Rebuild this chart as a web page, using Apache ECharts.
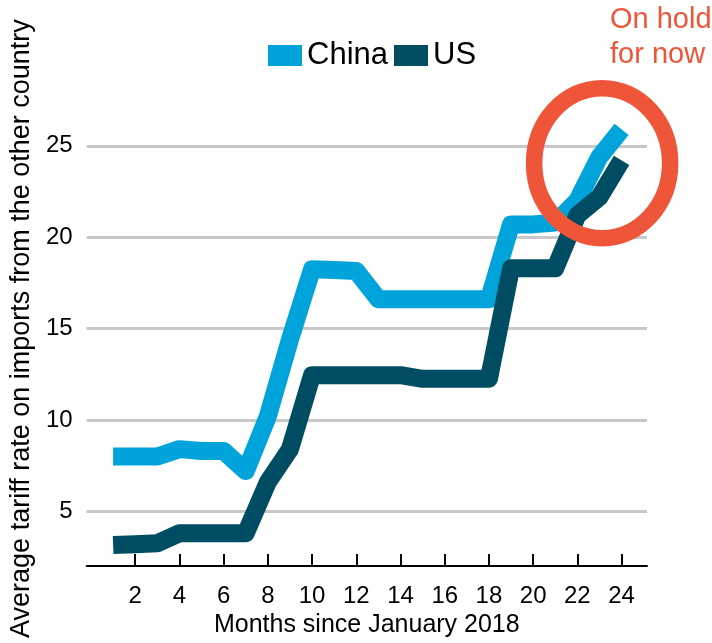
<!DOCTYPE html>
<html>
<head>
<meta charset="utf-8">
<script src="https://cdn.jsdelivr.net/npm/echarts@6/dist/echarts.min.js"></script>
<style>html,body{margin:0;padding:0;background:#fff}#c{width:712px;height:643px}</style>
</head>
<body>
<div id="c"></div>
<script>
var months = [1,2,3,4,5,6,7,8,9,10,11,12,13,14,15,16,17,18,19,20,21,22,23,24];
var china  = [8.0,8.0,8.0,8.4,8.3,8.3,7.2,10.2,14.4,18.25,18.2,18.15,16.6,16.6,16.6,16.6,16.6,16.6,20.7,20.7,20.8,22.0,24.4,25.9];
var us     = [3.15,3.2,3.25,3.8,3.8,3.8,3.8,6.6,8.4,12.45,12.45,12.45,12.45,12.45,12.25,12.25,12.25,12.25,18.3,18.3,18.3,21.2,22.2,24.2];
var xTicks = [2,4,6,8,10,12,14,16,18,20,22,24];
var yTicks = [5,10,15,20,25];
var seriesNames = ['China','US'];
var note = 'On hold\nfor now';

var FONT = '"Liberation Sans", Arial, sans-serif';
var chart = echarts.init(document.getElementById('c'), null, {renderer:'canvas'});
function pairs(vals){ return months.map(function(m,i){ return [m, vals[i]]; }); }

chart.setOption({
  animation: false,
  backgroundColor: '#fff',
  textStyle: {fontFamily: FONT},
  grid: {left: 85, right: 65, top: 91, bottom: 71, containLabel: false},
  legend: {
    data: seriesNames, icon: 'rect', itemWidth: 34, itemHeight: 21,
    left: 263, top: 35, itemGap: 6,
    textStyle: {fontSize: 31, color: '#000', fontFamily: FONT, lineHeight: 31}
  },
  xAxis: {
    type: 'value', min: -0.2, max: 25.15,
    name: 'Months since January 2018', nameLocation: 'middle', nameGap: 44,
    nameTextStyle: {fontSize: 25, color: '#000', fontFamily: FONT},
    axisLine: {show: true, lineStyle: {color: '#000', width: 2}},
    axisTick: {show: true, inside: true, length: 12, lineStyle: {color: '#000', width: 2}, customValues: xTicks},
    axisLabel: {fontSize: 24, color: '#000', margin: 18, fontFamily: FONT, customValues: xTicks},
    splitLine: {show: false}
  },
  yAxis: {
    type: 'value', min: 2, max: 28,
    name: 'Average tariff rate on imports from the other country',
    nameLocation: 'middle', nameGap: 51,
    nameTextStyle: {fontSize: 27, color: '#000', fontFamily: FONT},
    axisLine: {show: false},
    axisTick: {show: false, customValues: yTicks},
    axisLabel: {fontSize: 24, color: '#000', margin: 14, fontFamily: FONT, customValues: yTicks},
    splitLine: {show: true, lineStyle: {color: '#c8c8c8', width: 3}}
  },
  series: [
    {name: 'China', type: 'line', data: pairs(china), showSymbol: false, symbol: 'none',
     color: '#00A3DA', itemStyle: {color: '#00A3DA'},
     lineStyle: {color: '#00A3DA', width: 18, join: 'round', cap: 'butt'}, z: 2},
    {name: 'US', type: 'line', data: pairs(us), showSymbol: false, symbol: 'none',
     color: '#004C63', itemStyle: {color: '#004C63'},
     lineStyle: {color: '#004C63', width: 18, join: 'round', cap: 'butt'}, z: 3}
  ]
});

var ctr = chart.convertToPixel({gridIndex: 0}, [23.12, 24.05]);
chart.setOption({
  graphic: [
    {type: 'ellipse', z: 100, shape: {cx: ctr[0], cy: ctr[1], rx: 68, ry: 75},
     style: {fill: 'none', stroke: '#EE5539', lineWidth: 16.5}},
    {type: 'text', z: 100, x: 610, y: 2,
     style: {text: note, fill: '#EE5539', font: '29px ' + FONT, lineHeight: 35}}
  ]
});
</script>
</body>
</html>
